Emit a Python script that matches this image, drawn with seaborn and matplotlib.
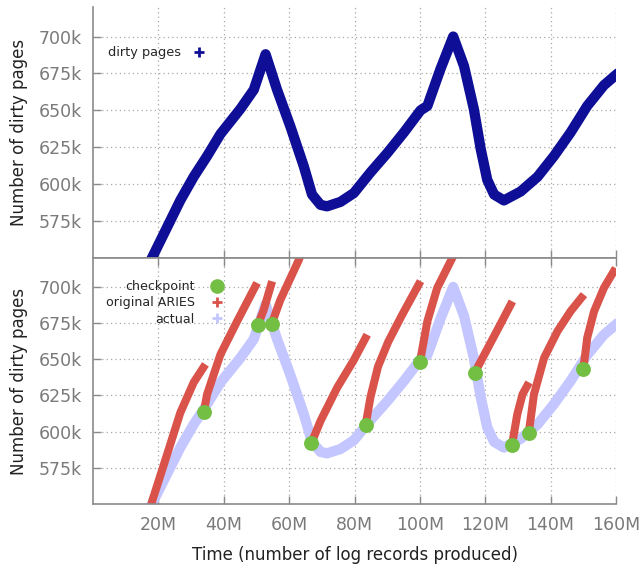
import matplotlib
matplotlib.use("Agg")
import matplotlib.pyplot as plt
from matplotlib.lines import Line2D
import seaborn as sns
import pandas as pd

# ---- data (x in millions of log records, y in thousands of dirty pages) ----
actual_x = [17.8, 22.7, 26.7, 30.8, 34.9, 39.0, 45.1, 49.2, 52.8, 56.3, 60.4, 64.5,
            67.0, 69.6, 71.6, 75.7, 79.8, 84.9, 90.0, 95.1, 100.2, 102.3, 106.3,
            110.2, 113.5, 116.5, 118.6, 120.6, 122.7, 125.7, 130.8, 136.0, 141.0,
            146.1, 151.2, 156.3, 160.5]
actual_y = [549, 571, 589, 605, 619, 634, 651, 664, 688, 664, 639, 612,
            593, 586, 585, 588, 594, 608, 621, 635, 650, 653, 678,
            700, 680, 651, 624, 603, 593, 589, 595, 605, 619,
            635, 653, 667, 675]

checkpoint_x = [33.9, 50.4, 54.7, 66.8, 83.4, 100.0, 116.8, 128.2, 133.3, 150.0]
checkpoint_y = [613.5, 673.4, 674.7, 592.0, 604.6, 648.0, 640.8, 591.0, 599.0, 643.0]

aries_seg = ["A"] * 6 + ["B"] * 5 + ["C"] * 3 + ["D"] * 4 + ["E"] * 5 + ["F"] * 6 + \
            ["G"] * 5 + ["H"] * 4 + ["I"] * 4 + ["J"] * 6 + ["K"] * 5
aries_x = [17.8, 18.1, 22.7, 26.7, 30.8, 34.4,
           33.9, 34.9, 39.0, 44.1, 50.2,
           50.4, 52.2, 54.8,
           54.7, 57.3, 63.0, 63.5,
           66.8, 69.6, 74.7, 79.8, 83.9,
           83.4, 84.9, 87.2, 90.3, 94.4, 100.2,
           100.0, 102.3, 105.3, 109.9, 110.4,
           116.8, 120.6, 124.7, 128.3,
           128.2, 129.8, 131.4, 133.4,
           133.3, 134.9, 138.0, 142.1, 146.1, 150.2,
           150.0, 151.2, 153.3, 156.3, 159.9]
aries_y = [549, 552, 584.5, 613, 634, 646.5,
           613.5, 625.8, 653.4, 676.3, 702.8,
           673.4, 684, 703.9,
           674.7, 691, 718.8, 722,
           592, 607.4, 630.4, 649.5, 667,
           604.6, 624, 645, 662, 680, 704,
           648, 676.3, 699.3, 720, 722,
           640.8, 657, 674.5, 690,
           591, 612, 625.8, 634,
           599, 625.8, 651, 669.4, 683.2, 694.7,
           643, 664.9, 683.2, 699.3, 713]

x_ticks = [20, 40, 60, 80, 100, 120, 140, 160]
x_tick_labels = ["20M", "40M", "60M", "80M", "100M", "120M", "140M", "160M"]
y_ticks = [575, 600, 625, 650, 675, 700]
y_tick_labels = ["575k", "600k", "625k", "650k", "675k", "700k"]

# ---- style ----
sns.set_style("white")
plt.rcParams["font.family"] = ["DejaVu Sans"]

NAVY = "#0e0e96"
RED = "#d9534a"
GREEN = "#72bf44"
LAV = "#c4c6ff"
GRAY = "#7a7a7a"
SPINE = "#8a8a8a"

df_actual = pd.DataFrame({"x": actual_x, "y": actual_y})
df_cp = pd.DataFrame({"x": checkpoint_x, "y": checkpoint_y})
df_aries = pd.DataFrame({"x": aries_x, "y": aries_y, "seg": aries_seg})

fig = plt.figure(figsize=(6.4, 5.66), dpi=100)
W, H = 640, 566
left, right = 93, 616
ax1 = fig.add_axes([left / W, (H - 258) / H, (right - left) / W, 251 / H])
ax2 = fig.add_axes([left / W, (H - 504) / H, (right - left) / W, 246 / H])


def style_axes(ax, top_spine, show_xlabels):
    ax.set_xlim(0, 160)
    ax.set_ylim(550, 720)
    ax.set_xticks(x_ticks)
    ax.set_yticks(y_ticks)
    ax.set_yticklabels(y_tick_labels)
    if show_xlabels:
        ax.set_xticklabels(x_tick_labels)
    else:
        ax.set_xticklabels([])
    ax.grid(True, linestyle=(0, (1, 2.5)), color="#a8a8a8", linewidth=0.9)
    ax.set_axisbelow(True)
    for s in ["left", "bottom"]:
        ax.spines[s].set_visible(True)
        ax.spines[s].set_color(SPINE)
        ax.spines[s].set_linewidth(1.2)
    ax.spines["right"].set_visible(False)
    ax.spines["top"].set_visible(top_spine)
    ax.spines["top"].set_color(SPINE)
    ax.spines["top"].set_linewidth(1.2)
    ax.tick_params(axis="both", direction="in", length=6, width=1, color=SPINE,
                   labelsize=12.5, labelcolor=GRAY, pad=8)
    ax.tick_params(axis="x", top=top_spine, bottom=True)
    ax.tick_params(axis="y", left=True, right=False)
    ax.set_ylabel("Number of dirty pages", fontsize=12, color="#222222", labelpad=8)


# top panel
sns.lineplot(data=df_actual, x="x", y="y", ax=ax1, color=NAVY, linewidth=7.4,
             sort=False, estimator=None, solid_capstyle="round", solid_joinstyle="round")
style_axes(ax1, top_spine=False, show_xlabels=False)
ax1.set_xlabel("")
ax1.legend(handles=[Line2D([], [], marker="+", color=NAVY, ls="", markersize=7, mew=2)],
           labels=["dirty pages"], loc="center left", bbox_to_anchor=(0.016, 0.817),
           markerfirst=False, frameon=False, fontsize=9.3, borderpad=0,
           handletextpad=0.9, handlelength=1.0)

# bottom panel
sns.lineplot(data=df_actual, x="x", y="y", ax=ax2, color=LAV, linewidth=7.4,
             sort=False, estimator=None, solid_capstyle="round", solid_joinstyle="round")
sns.lineplot(data=df_aries, x="x", y="y", units="seg", ax=ax2, color=RED, linewidth=5.8,
             sort=False, estimator=None, solid_capstyle="butt", solid_joinstyle="round")
sns.scatterplot(data=df_cp, x="x", y="y", ax=ax2, color=GREEN, s=115, linewidth=0, zorder=5)
style_axes(ax2, top_spine=True, show_xlabels=True)
ax2.set_xlabel("Time (number of log records produced)", fontsize=12, color="#222222", labelpad=8)
ax2.tick_params(axis="x", pad=9)

handles = [
    Line2D([], [], marker="o", color=GREEN, ls="", markersize=10.5, mew=0),
    Line2D([], [], marker="+", color=RED, ls="", markersize=7, mew=2),
    Line2D([], [], marker="+", color=LAV, ls="", markersize=7, mew=2),
]
ax2.legend(handles=handles, labels=["checkpoint", "original ARIES", "actual"],
           loc="upper right", bbox_to_anchor=(0.262, 0.935), markerfirst=False,
           frameon=False, fontsize=9.1, borderpad=0, handletextpad=1.3,
           handlelength=1.0, labelspacing=0.25)

fig.savefig("out.png", dpi=100)
